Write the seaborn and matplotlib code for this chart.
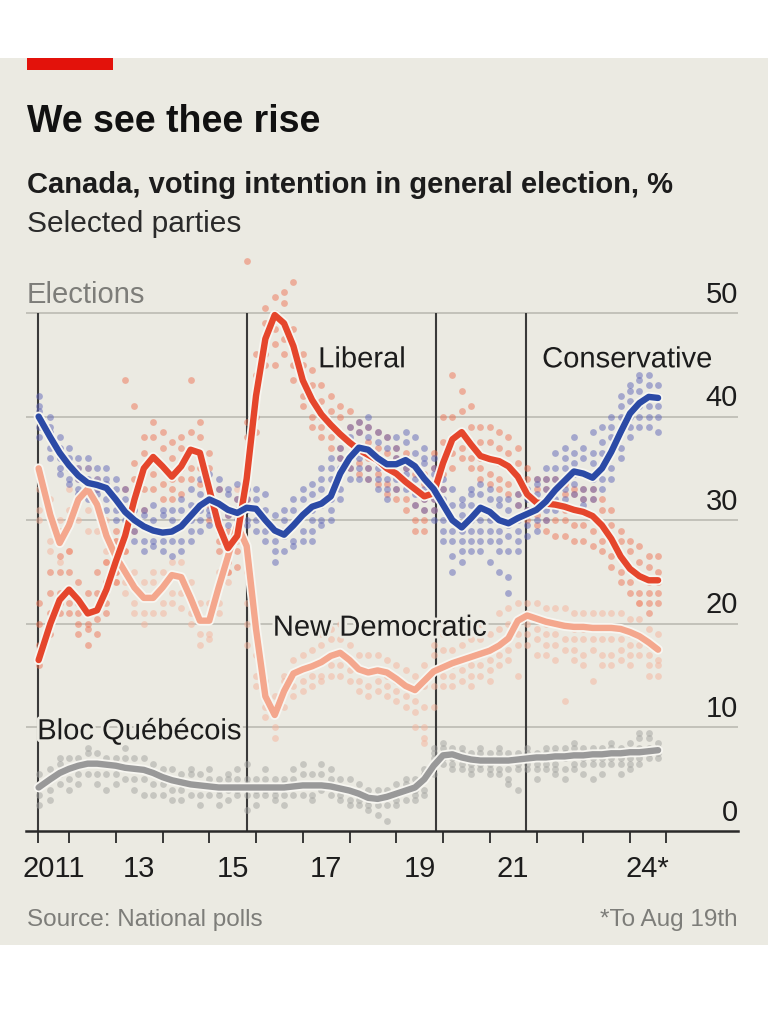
import matplotlib
matplotlib.use("Agg")
import matplotlib.pyplot as plt
import matplotlib.patheffects as pe
from matplotlib.patches import Rectangle
import pandas as pd
import seaborn as sns

# ---------------- data ----------------
dates = [2011.35, 2011.6, 2011.8,
         2012.0, 2012.2, 2012.4, 2012.6, 2012.8,
         2013.0, 2013.2, 2013.4, 2013.6, 2013.8,
         2014.0, 2014.2, 2014.4, 2014.6, 2014.8,
         2015.0, 2015.2, 2015.4, 2015.6, 2015.8,
         2016.0, 2016.2, 2016.4, 2016.6, 2016.8,
         2017.0, 2017.2, 2017.4, 2017.6, 2017.8,
         2018.0, 2018.2, 2018.4, 2018.6, 2018.8,
         2019.0, 2019.2, 2019.4, 2019.6, 2019.8,
         2020.0, 2020.2, 2020.4, 2020.6, 2020.8,
         2021.0, 2021.2, 2021.4, 2021.6, 2021.8,
         2022.0, 2022.2, 2022.4, 2022.6, 2022.8,
         2023.0, 2023.2, 2023.4, 2023.6, 2023.8,
         2024.0, 2024.2, 2024.4, 2024.6]

con_trend = [40.0, 38.0, 36.5,
             35.3, 34.3, 33.6, 33.4, 33.1,
             32.0, 30.8, 30.0, 29.4, 29.0,
             28.8, 28.9, 29.4, 30.4, 31.4,
             32.0, 31.6, 31.0, 30.7, 31.2,
             31.1, 30.0, 29.0, 28.6, 29.5,
             30.5, 31.3, 31.6, 32.3, 34.5,
             36.0, 37.0, 36.8, 36.0, 35.4,
             35.4, 35.8, 35.2, 34.0, 33.0,
             31.5, 30.0, 29.3, 30.2, 31.2,
             30.8, 30.0, 29.7, 30.2, 30.6,
             31.0, 31.8, 32.9, 33.8, 34.7,
             34.5, 34.1, 35.0, 36.6, 38.5,
             40.3, 41.3, 41.9, 41.8]

lib_trend = [16.5, 20.0, 22.3,
             23.3, 22.3, 21.0, 21.3, 23.3,
             26.0, 28.5, 32.0, 35.0, 36.1,
             35.2, 34.2, 35.2, 36.8, 36.5,
             33.0, 29.5, 27.3, 28.5, 34.0,
             42.0, 47.5, 49.8, 49.0, 46.8,
             43.5, 41.6, 40.2, 39.2, 38.3,
             37.5, 36.8, 36.3, 35.8, 35.0,
             34.5, 33.7, 33.0, 32.3, 32.6,
             35.5, 37.8, 38.5, 37.3, 36.2,
             35.9, 35.7, 35.2, 34.2, 32.5,
             31.7, 31.6, 31.5, 31.3, 31.0,
             30.8, 30.4, 29.5, 28.2, 26.5,
             25.3, 24.6, 24.2, 24.2]

ndp_trend = [35.0, 30.5, 27.8,
             29.5, 32.0, 33.0, 31.5, 28.5,
             26.5, 25.0, 23.5, 22.5, 22.5,
             23.5, 24.7, 24.5, 22.5, 20.3,
             20.3, 23.5, 26.5, 29.5, 27.5,
             19.5, 13.0, 11.2, 13.5, 15.2,
             15.6, 15.9, 16.3, 16.9, 17.2,
             16.5, 15.6, 15.3, 15.5, 15.3,
             14.7, 14.0, 13.6, 14.5, 15.4,
             15.8, 16.2, 16.5, 16.8, 17.1,
             17.4, 17.9, 18.6, 20.3, 20.8,
             20.5, 20.2, 20.0, 19.8, 19.7,
             19.7, 19.6, 19.6, 19.6, 19.5,
             19.2, 18.8, 18.2, 17.5]

bloc_trend = [4.2, 5.0, 5.6,
              6.0, 6.3, 6.5, 6.5, 6.4,
              6.3, 6.1, 6.0, 5.9, 5.6,
              5.2, 4.9, 4.7, 4.5, 4.4,
              4.3, 4.2, 4.2, 4.2, 4.2,
              4.2, 4.2, 4.2, 4.2, 4.3,
              4.4, 4.4, 4.4, 4.3, 4.1,
              3.9, 3.6, 3.2, 3.1, 3.3,
              3.6, 3.9, 4.2, 5.0, 6.3,
              7.3, 7.4, 7.1, 6.9, 6.8,
              6.8, 6.8, 6.8, 6.9, 7.0,
              7.1, 7.1, 7.2, 7.2, 7.3,
              7.3, 7.4, 7.4, 7.5, 7.5,
              7.6, 7.6, 7.7, 7.8]

# individual polls (one list per date above)
con_polls = [
    [42, 41, 39, 38, 40.5], [39, 37, 38.5, 36, 40], [37, 36, 35, 38, 34.5],
    [36, 35, 34, 33.5, 37], [35, 34, 33, 36, 32.5], [34, 35, 33, 32, 36], [33, 35, 34, 31.5, 32.5], [34, 32, 33.5, 31, 35],
    [32, 31, 33, 30, 34], [31, 30, 32, 29, 33], [30, 29, 31, 28, 32.5], [29.5, 28, 31, 27, 30.5], [29, 28, 30, 27.5, 31.5],
    [29, 28, 30.5, 27, 31], [29, 30, 28, 31, 26.5], [29.5, 31, 28, 32, 27], [30, 31.5, 29, 33, 28], [31, 32.5, 30, 34, 29],
    [32, 33, 30.5, 34.5, 29.5, 31], [31.5, 33, 30, 34, 29], [31, 32.5, 29.5, 33, 28, 30.5], [31, 32, 30, 33.5, 28.5, 29], [31, 32, 30, 33, 29.5, 34],
    [31, 30, 32, 29, 33], [30, 29, 31, 28, 32.5], [29, 28, 30.5, 27, 26], [28.5, 30, 27, 31, 29], [29.5, 31, 28, 32, 27.5],
    [30.5, 32, 29, 33, 28], [31, 32.5, 30, 33.5, 29, 28], [31.5, 33, 30, 34, 29.5, 35], [32, 34, 31, 35, 30, 36], [34.5, 36, 33, 37, 32, 35],
    [36, 37.5, 35, 38, 34, 39], [37, 38.5, 36, 39.5, 35, 34], [36.5, 38, 35, 39, 34, 40], [36, 37.5, 35, 38.5, 34, 33], [35.5, 37, 34, 38, 33, 32],
    [35.5, 37, 34, 38, 33, 36], [36, 37.5, 34.5, 38.5, 33, 35], [35, 36.5, 34, 38, 32.5, 31.5], [34, 35.5, 33, 37, 32, 31, 36], [33, 34.5, 32, 35, 31, 30, 36],
    [31.5, 33, 30, 34, 29, 28, 32], [30, 31.5, 29, 33, 28, 26.5, 25], [29, 30.5, 28, 31.5, 27, 26, 32], [30, 31.5, 29, 32.5, 28, 27, 33], [31, 32.5, 30, 33.5, 29, 28, 27],
    [31, 32, 30, 33, 29, 28, 26], [30, 31.5, 29, 32, 28, 27, 25], [29.5, 31, 28.5, 32, 27, 24.5, 23], [30, 31.5, 29, 32.5, 28, 27], [30.5, 32, 29.5, 33, 28.5, 31],
    [31, 32.5, 30, 33.5, 29, 34], [32, 33, 31, 34, 30, 35], [33, 34, 32, 35, 31, 36.5], [34, 35, 33, 36, 32, 37], [34.5, 35.5, 33.5, 36.5, 32.5, 38],
    [34.5, 36, 33, 37, 32, 31.5], [34, 35.5, 33, 36.5, 32, 38.5], [35, 36.5, 34, 37.5, 33, 39], [36.5, 38, 35, 39, 34, 40], [38.5, 40, 37, 41, 36, 42],
    [40, 41.5, 39, 42.5, 38, 43], [41, 42.5, 40, 43.5, 39, 44], [42, 43, 41, 44, 40, 39], [42, 41, 43, 40, 38.5]]

lib_polls = [
    [18, 17, 20, 16, 22], [21, 20, 23, 19, 25], [23, 22, 25, 21, 26.5],
    [23.5, 22, 25, 21, 27], [22, 21, 24, 20, 19], [21, 20, 23, 19.5, 18], [21.5, 20.5, 23, 19, 25], [24, 23, 26, 22, 21],
    [26, 25, 28, 24, 29], [28.5, 27, 31, 25, 43.5, 33], [32, 30, 34, 29, 35.5, 41], [35, 33, 36.5, 31, 38], [36, 34.5, 38, 33, 39.5],
    [35, 33.5, 37, 32, 38.5], [34, 33, 36, 32, 37.5], [35, 34, 37, 32.5, 38], [37, 35, 38.5, 34, 43.5], [36.5, 35, 38, 33.5, 39.5],
    [33, 31.5, 35, 30, 36.5], [29.5, 28, 31.5, 27, 33], [27.5, 26, 29, 25, 30.5], [28.5, 27, 30.5, 25.5, 32], [34, 36, 38, 32, 39.5, 55],
    [42, 44, 40, 46, 38.5], [47.5, 46, 49, 45, 50.5], [50, 48.5, 51.5, 47, 45], [49, 47.5, 51, 46, 52], [47, 45, 48.5, 43.5, 53],
    [43.5, 42, 45, 41, 46], [41.5, 40, 43, 39, 44.5], [40, 39, 41.5, 38, 43], [39, 38, 40.5, 37, 42], [38.5, 37, 40, 36, 41],
    [37.5, 36, 39, 35, 40.5], [37, 35.5, 38.5, 34.5, 39.5], [36, 35, 37.5, 34, 39], [36, 34.5, 37, 33.5, 38.5], [35, 33.5, 36.5, 32.5, 38],
    [34.5, 33, 36, 32, 37], [33.5, 32, 35, 31, 36.5], [33, 31.5, 34.5, 30, 29], [32, 31, 33.5, 30, 29, 34.5], [33.5, 32, 35, 31, 36.5],
    [36, 34.5, 37.5, 33, 40], [38, 36.5, 40, 35, 44], [38.5, 37, 40.5, 36, 42.5], [37.5, 36, 39, 35, 41], [36, 35, 37.5, 34, 39],
    [36, 34.5, 37.5, 33.5, 39], [35.5, 34, 37, 33, 38.5], [35, 33.5, 36.5, 32.5, 38], [34, 32.5, 35.5, 31.5, 37], [32.5, 31, 34, 30, 35],
    [31.5, 30.5, 33, 29.5, 34], [31.5, 30, 33, 29, 34], [31.5, 30, 33, 28.5, 34], [31, 30, 32.5, 28.5, 33.5], [31, 29.5, 32.5, 28, 33],
    [31, 29.5, 32, 28, 33], [30.5, 29, 32, 27.5, 33], [29.5, 28, 31, 27, 32], [28, 26.5, 29.5, 25.5, 31], [26.5, 25, 28, 24, 29],
    [25.5, 24, 27, 23, 28], [24.5, 23, 26, 22, 27.5], [24, 23, 25.5, 22, 26.5, 21], [24, 23, 25, 22, 26.5]]

ndp_polls = [
    [33, 35, 31, 30], [30, 32, 28, 27], [28, 30, 26, 29],
    [29.5, 31, 27, 33], [32, 34, 30, 35], [33, 35, 31, 29], [31.5, 33, 29, 34], [28.5, 30, 27, 26],
    [26.5, 28, 25, 24], [25, 27, 23, 24], [23.5, 25, 22, 21], [22.5, 24, 21, 20], [22.5, 24, 21, 25],
    [23.5, 25, 22, 21], [24.5, 26, 23, 22], [24.5, 26, 23, 21.5], [22.5, 24, 21, 20], [20.5, 22, 19, 18],
    [20.5, 22, 19, 18.5], [23.5, 25, 22, 21], [26.5, 28, 25, 24], [29.5, 31, 28, 33], [27, 25, 22, 20, 18],
    [20, 17, 15, 14], [13, 12, 14.5, 11], [11.5, 10, 13, 9], [13.5, 12, 15, 14.5], [15, 14, 16.5, 13],
    [15.5, 14.5, 17, 13.5], [16, 15, 17.5, 14], [16.5, 15, 18, 14.5, 19], [17, 16, 18.5, 15, 19.5], [17, 16, 18.5, 15, 20],
    [16.5, 15.5, 18, 14.5], [15.5, 14.5, 17, 13.5], [15.5, 14, 17, 13], [15.5, 14.5, 17, 13.5], [15, 14, 16.5, 13],
    [14.5, 13.5, 16, 12.5], [14, 13, 15.5, 12], [13.5, 12.5, 15, 11.5, 10], [14, 12, 10, 9, 8.5, 16], [15.5, 14, 17, 18, 12],
    [16, 15, 17.5, 14, 19], [16, 15, 17.5, 14, 19.5], [16.5, 15.5, 18, 14.5, 20], [17, 16, 18.5, 15, 14], [17, 16, 18.5, 15, 20],
    [17.5, 16.5, 19, 15.5, 14.5], [18, 17, 19.5, 16, 21], [18.5, 17.5, 20, 16.5, 21.5], [20.5, 19, 22, 18, 15], [21, 20, 22, 19, 18],
    [20.5, 19.5, 22, 18.5, 17], [20, 19, 21.5, 18, 17], [20, 19, 21.5, 18, 16.5], [20, 18.5, 21.5, 17.5, 12.5], [19.5, 18.5, 21, 17.5, 16.5],
    [19.5, 18.5, 21, 17, 16], [19.5, 18.5, 21, 17.5, 14.5], [19.5, 18.5, 21, 17, 16], [19.5, 18.5, 21, 17, 16], [19.5, 18.5, 21, 17.5, 16.5],
    [19, 18, 20.5, 17, 16], [19, 18, 20.5, 17, 22], [18, 17, 19.5, 16, 15], [17.5, 16.5, 19, 16, 15]]

bloc_polls = [
    [4.5, 3.5, 5.5, 2.5], [5, 4, 6, 3], [5.5, 4.5, 6.5, 7],
    [6, 5, 7, 4], [6.5, 5.5, 7, 4.5], [6.5, 5.5, 7.5, 8], [6.5, 5.5, 7.5, 4.5], [6.5, 5.5, 7, 4],
    [6.5, 5.5, 7, 4.5], [6, 5, 7, 8], [6, 5, 7, 4], [6, 5, 7, 3.5], [5.5, 4.5, 6.5, 3.5],
    [5, 4.5, 6, 3.5], [5, 4, 6, 3], [4.5, 4, 5.5, 3], [4.5, 3.5, 5.5, 6], [4.5, 3.5, 5.5, 2.5],
    [4.5, 3.5, 5, 6], [4, 3.5, 5, 2.5], [4, 3, 5, 5.5], [4, 3.5, 5, 6], [4.5, 3.5, 5, 2, 6.5],
    [4, 3.5, 5, 2.5], [4, 3.5, 5, 6], [4, 3.5, 5, 3], [4.5, 3.5, 5, 2.5], [4.5, 3.5, 5, 6],
    [4.5, 3.5, 5.5, 6.5], [4.5, 3.5, 5.5, 3], [4.5, 4, 5.5, 6.5], [4.5, 3.5, 5, 6], [4, 3.5, 5, 3],
    [4, 3, 5, 2.5], [3.5, 3, 4.5, 2.5], [3, 2.5, 4, 2], [3, 2.5, 4, 1.5], [3.5, 2.5, 4, 1],
    [3.5, 3, 4.5, 2.5], [4, 3, 4.5, 5], [4, 3.5, 5, 3], [5, 4, 5.5, 3.5, 6], [6.5, 7.5, 8, 5.5, 7],
    [7.5, 7, 8, 6.5, 8.5], [7.5, 7, 8, 6.5, 6], [7, 6.5, 7.5, 6, 8], [7, 6.5, 7.5, 6, 5.5], [7, 6.5, 7.5, 6, 8],
    [7, 6.5, 7.5, 6, 5.5], [7, 6, 7.5, 5.5, 8], [7, 6, 7.5, 5, 4.5], [7, 6.5, 7.5, 6, 4], [7, 6.5, 7.5, 6, 8],
    [7, 6.5, 7.5, 6, 5], [7, 6.5, 7.5, 6, 8], [7.5, 6.5, 8, 6, 5.5], [7.5, 7, 8, 6, 5], [7.5, 6.5, 8, 6, 8.5],
    [7.5, 7, 8, 6.5, 5.5], [7.5, 7, 8, 6.5, 5], [7.5, 7, 8, 6.5, 5.5], [7.5, 7, 8, 6.5, 8.5], [7.5, 7, 8, 6.5, 5.5],
    [7.5, 7, 8.5, 6.5, 6], [8, 7, 9, 6.5, 9.5], [8, 7.5, 9, 7, 9.5], [8, 7.5, 8.5, 7]]

elections = [2011.34, 2015.80, 2019.84, 2021.78]
year_ticks = [2011.34, 2012, 2013, 2014, 2015, 2016, 2017, 2018, 2019, 2020,
              2021, 2022, 2023, 2024, 2024.77]
year_label_pos = [2011.67, 2013.5, 2015.5, 2017.5, 2019.5, 2021.5, 2024.38]
year_labels = ["2011", "13", "15", "17", "19", "21", "24*"]
y_ticks = [0, 10, 20, 30, 40, 50]

for nm, arr in [("con", con_trend), ("lib", lib_trend), ("ndp", ndp_trend),
                ("bloc", bloc_trend), ("conp", con_polls), ("libp", lib_polls),
                ("ndpp", ndp_polls), ("blocp", bloc_polls)]:
    assert len(arr) == len(dates), (nm, len(arr), len(dates))

# ---------------- style ----------------
sns.set_theme(style="white")
plt.rcParams["font.family"] = ["Liberation Sans", "DejaVu Sans"]

BG = "#ebeae2"
DARK = "#1c1c1c"
GREY = "#7d7d79"
C_LIB, C_LIB_DOT = "#e5462c", "#ee7455"
C_CON, C_CON_DOT = "#2b4aa6", "#5f65b8"
C_NDP, C_NDP_DOT = "#f4a78d", "#f5b49c"
C_BQ, C_BQ_DOT = "#999999", "#a3a3a0"

fig = plt.figure(figsize=(7.68, 10.24), dpi=100, facecolor="white")
fig.patches.append(Rectangle((0, 1 - 945 / 1024), 1, (945 - 58) / 1024,
                             transform=fig.transFigure, facecolor=BG,
                             edgecolor="none", zorder=-10))
fig.patches.append(Rectangle((27 / 768, 1 - 70 / 1024), 86 / 768, 12 / 1024,
                             transform=fig.transFigure, facecolor="#e3120b",
                             edgecolor="none", zorder=-5))

ax = fig.add_axes([26 / 768, 1 - 831 / 1024, 712 / 768, 580.2 / 1024])
ax.set_facecolor("none")
X0, X1 = 2011.08, 2026.31
ax.set_xlim(X0, X1)
ax.set_ylim(0, 56)

# gridlines & election lines
ax.hlines(y_ticks[1:], X0, X1, color="#b7b6ae", lw=1.1, zorder=1)
ax.vlines(elections, 0, 50, color="#3a3a3a", lw=1.5, zorder=1.5)

# poll dots
def long_df(polls):
    rows = [(d, v) for d, vals in zip(dates, polls) for v in vals]
    return pd.DataFrame(rows, columns=["date", "value"])

for polls, col in [(bloc_polls, C_BQ_DOT), (ndp_polls, C_NDP_DOT),
                   (lib_polls, C_LIB_DOT), (con_polls, C_CON_DOT)]:
    sns.scatterplot(data=long_df(polls), x="date", y="value", color=col, s=24,
                    alpha=0.5, linewidth=0, ax=ax, zorder=2, legend=False)

# trend lines
halo = [pe.Stroke(linewidth=7.2, foreground="#f7f6f1"), pe.Normal()]
for trend, col, z in [(bloc_trend, C_BQ, 3), (ndp_trend, C_NDP, 3.2),
                      (lib_trend, C_LIB, 3.4), (con_trend, C_CON, 3.6)]:
    sns.lineplot(x=dates, y=trend, color=col, lw=4.6, ax=ax, zorder=z,
                 estimator=None, solid_capstyle="round",
                 solid_joinstyle="round", path_effects=halo)

# series labels
thalo = [pe.withStroke(linewidth=4, foreground=BG)]
for txt, x, y in [("Liberal", 2017.33, 44.75), ("Conservative", 2022.12, 44.75),
                  ("New Democratic", 2016.36, 18.85), ("Bloc Québécois", 2011.32, 8.85)]:
    ax.text(x, y, txt, fontsize=21, color=DARK, va="baseline", ha="left",
            zorder=5, path_effects=thalo)

# axes cosmetics
for s in ["left", "right", "top"]:
    ax.spines[s].set_visible(False)
ax.spines["bottom"].set_color("#2a2a2a")
ax.spines["bottom"].set_linewidth(1.8)
ax.set_yticks([])
ax.set_xlabel("")
ax.set_ylabel("")
ax.set_xticks(year_ticks)
ax.set_xticklabels([""] * len(year_ticks))
ax.set_xticks(year_label_pos, minor=True)
ax.set_xticklabels(year_labels, minor=True)
ax.tick_params(axis="x", which="major", direction="out", length=8.5, width=1.3,
               color="#2a2a2a", bottom=True)
ax.tick_params(axis="x", which="minor", length=0, pad=17.5, labelsize=21,
               labelcolor=DARK, bottom=True)

# right-hand value labels sitting above gridlines
for v in y_ticks:
    ax.text(1.0, v + 1.0, str(v), transform=ax.get_yaxis_transform(),
            ha="right", va="baseline", fontsize=21, color=DARK)
ax.text(0.0015, 51.0, "Elections", transform=ax.get_yaxis_transform(),
        ha="left", va="baseline", fontsize=21, color=GREY)

# titles and footer
fig.text(27 / 768, 1 - 132 / 1024, "We see thee rise", fontsize=27,
         fontweight="bold", color="#111111", va="baseline")
fig.text(27 / 768, 1 - 193 / 1024, "Canada, voting intention in general election, %",
         fontsize=21, fontweight="bold", color=DARK, va="baseline")
fig.text(27 / 768, 1 - 232 / 1024, "Selected parties", fontsize=21.5,
         color="#2a2a2a", va="baseline")
fig.text(27 / 768, 1 - 926 / 1024, "Source: National polls", fontsize=17.5,
         color=GREY, va="baseline")
fig.text(738 / 768, 1 - 926 / 1024, "*To Aug 19th", fontsize=17.5,
         color=GREY, va="baseline", ha="right")

fig.savefig("out.png", dpi=100)
